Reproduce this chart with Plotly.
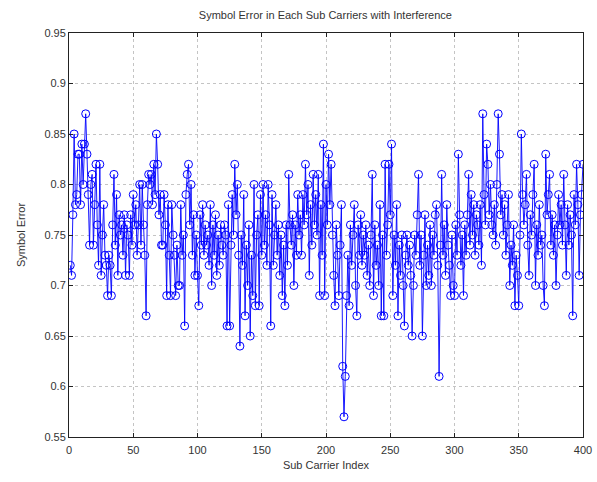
import plotly.graph_objects as go

sub_carrier = list(range(1, 401))
symbol_error = [
    0.72, 0.71, 0.77, 0.85, 0.78, 0.79, 0.83, 0.83, 0.78, 0.84,
    0.80, 0.84, 0.87, 0.83, 0.79, 0.74, 0.80, 0.81, 0.74, 0.78,
    0.82, 0.76, 0.72, 0.82, 0.71, 0.75, 0.78, 0.73, 0.72, 0.69,
    0.73, 0.72, 0.69, 0.76, 0.81, 0.74, 0.79, 0.71, 0.77, 0.75,
    0.76, 0.73, 0.77, 0.71, 0.76, 0.75, 0.71, 0.77, 0.74, 0.79,
    0.76, 0.78, 0.73, 0.76, 0.80, 0.74, 0.80, 0.76, 0.73, 0.67,
    0.78, 0.81, 0.80, 0.81, 0.78, 0.82, 0.79, 0.85, 0.82, 0.77,
    0.79, 0.74, 0.74, 0.79, 0.76, 0.69, 0.78, 0.73, 0.69, 0.78,
    0.75, 0.73, 0.69, 0.74, 0.70, 0.70, 0.78, 0.73, 0.75, 0.66,
    0.79, 0.81, 0.82, 0.76, 0.80, 0.73, 0.77, 0.71, 0.75, 0.71,
    0.68, 0.77, 0.74, 0.78, 0.73, 0.76, 0.74, 0.75, 0.72, 0.78,
    0.70, 0.76, 0.73, 0.77, 0.71, 0.75, 0.72, 0.76, 0.74, 0.73,
    0.76, 0.75, 0.66, 0.78, 0.66, 0.74, 0.79, 0.75, 0.82, 0.77,
    0.80, 0.73, 0.64, 0.75, 0.72, 0.79, 0.67, 0.74, 0.70, 0.76,
    0.65, 0.73, 0.69, 0.80, 0.68, 0.75, 0.77, 0.68, 0.79, 0.73,
    0.80, 0.74, 0.77, 0.72, 0.80, 0.76, 0.66, 0.79, 0.72, 0.75,
    0.78, 0.73, 0.76, 0.71, 0.75, 0.69, 0.74, 0.68, 0.76, 0.72,
    0.81, 0.76, 0.74, 0.77, 0.70, 0.76, 0.73, 0.79, 0.75, 0.77,
    0.73, 0.79, 0.76, 0.82, 0.77, 0.80, 0.71, 0.78, 0.74, 0.81,
    0.76, 0.79, 0.75, 0.81, 0.69, 0.78, 0.73, 0.84, 0.69, 0.80,
    0.76, 0.83, 0.78, 0.82, 0.75, 0.71, 0.68, 0.76, 0.73, 0.69,
    0.74, 0.78, 0.62, 0.57, 0.61, 0.69, 0.73, 0.68, 0.76, 0.72,
    0.75, 0.78, 0.70, 0.67, 0.76, 0.73, 0.77, 0.72, 0.75, 0.73,
    0.76, 0.71, 0.74, 0.70, 0.75, 0.81, 0.69, 0.76, 0.72, 0.74,
    0.70, 0.78, 0.67, 0.75, 0.67, 0.82, 0.73, 0.76, 0.82, 0.77,
    0.84, 0.69, 0.75, 0.72, 0.78, 0.67, 0.74, 0.71, 0.75, 0.70,
    0.66, 0.73, 0.75, 0.72, 0.74, 0.71, 0.65, 0.70, 0.75, 0.73,
    0.77, 0.81, 0.72, 0.75, 0.65, 0.73, 0.77, 0.70, 0.74, 0.71,
    0.76, 0.70, 0.75, 0.73, 0.77, 0.78, 0.72, 0.61, 0.74, 0.81,
    0.73, 0.76, 0.71, 0.78, 0.74, 0.72, 0.69, 0.75, 0.70, 0.69,
    0.76, 0.73, 0.83, 0.77, 0.72, 0.75, 0.69, 0.76, 0.73, 0.77,
    0.81, 0.74, 0.79, 0.75, 0.78, 0.73, 0.77, 0.76, 0.74, 0.78,
    0.72, 0.87, 0.79, 0.76, 0.84, 0.82, 0.77, 0.80, 0.76, 0.75,
    0.78, 0.74, 0.80, 0.87, 0.83, 0.77, 0.79, 0.75, 0.78, 0.73,
    0.76, 0.79, 0.70, 0.74, 0.72, 0.76, 0.68, 0.73, 0.71, 0.68,
    0.75, 0.85, 0.79, 0.76, 0.78, 0.81, 0.74, 0.71, 0.77, 0.75,
    0.79, 0.82, 0.70, 0.76, 0.73, 0.78, 0.74, 0.75, 0.70, 0.68,
    0.83, 0.77, 0.79, 0.81, 0.74, 0.77, 0.73, 0.76, 0.70, 0.75,
    0.79, 0.76, 0.78, 0.74, 0.81, 0.76, 0.71, 0.78, 0.74, 0.77,
    0.75, 0.67, 0.79, 0.76, 0.82, 0.78, 0.71, 0.77, 0.79, 0.82,
]

x_ticks = [0, 50, 100, 150, 200, 250, 300, 350, 400]
y_ticks = [0.55, 0.6, 0.65, 0.7, 0.75, 0.8, 0.85, 0.9, 0.95]
y_tick_labels = ["0.55", "0.6", "0.65", "0.7", "0.75", "0.8", "0.85", "0.9", "0.95"]

FONT = dict(family="Liberation Sans, Arial", size=11, color="#333333")

fig = go.Figure()
fig.add_trace(go.Scatter(
    x=sub_carrier, y=symbol_error, mode="lines+markers",
    line=dict(color="#0000ff", width=0.9),
    marker=dict(symbol="circle-open", size=8, color="#0000ff", line=dict(width=1)),
    showlegend=False,
))

axis_common = dict(
    showline=True, linecolor="#222222", linewidth=1, mirror="ticks",
    ticks="inside", ticklen=4, tickcolor="#222222",
    showgrid=True, gridcolor="#c4c4c4", griddash="dot", gridwidth=1,
    zeroline=False, tickfont=FONT, automargin=False,
)

fig.update_layout(
    width=597, height=482,
    margin=dict(l=69, r=14, t=33, b=45, autoexpand=False),
    paper_bgcolor="#ffffff", plot_bgcolor="#ffffff",
    title=dict(text="Symbol Error in Each Sub Carriers with Interference",
               x=0.545, xanchor="center", y=0.968, yanchor="middle",
               font=FONT, automargin=False),
    xaxis=dict(range=[0, 400], tickvals=x_ticks, ticklabelstandoff=3,
               title=dict(text="Sub Carrier Index", standoff=6, font=FONT),
               **axis_common),
    yaxis=dict(range=[0.55, 0.95], tickvals=y_ticks, ticktext=y_tick_labels,
               title=dict(text="Symbol Error", standoff=16, font=FONT),
               **axis_common),
)

fig.write_html(
    "out.html",
    config={"displayModeBar": False},
    post_script="document.body.style.margin='0';document.body.style.overflow='hidden';",
)
